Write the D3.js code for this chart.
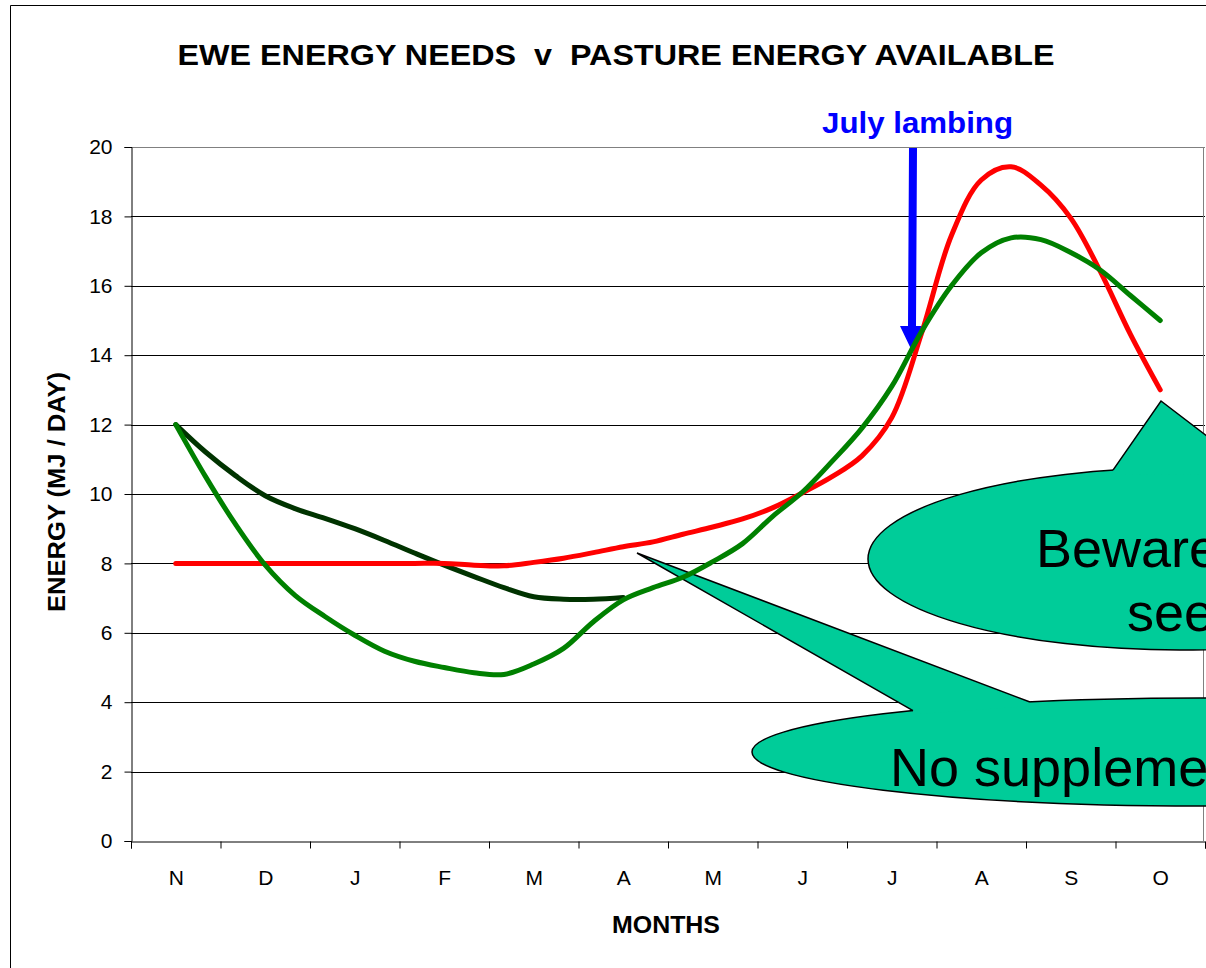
<!DOCTYPE html>
<html><head><meta charset="utf-8">
<script src="https://cdn.jsdelivr.net/npm/d3@7"></script>
<style>
html,body{margin:0;padding:0;background:#fff;}
svg{display:block;font-family:"Liberation Sans",Arial,sans-serif;}
</style></head>
<body><svg id="chart" width="1206" height="968"></svg>
<script>
// ---- data ----
const months = ["N","D","J","F","M","A","M","J","J","A","S","O"];
const yTickValues = [0,2,4,6,8,10,12,14,16,18,20];
// sample positions, in months from November (0 = N ... 11 = O)
const samplePos = [0,0.333,0.667,1,1.333,1.667,2,2.333,2.667,3,3.333,3.667,4,4.333,4.667,5,5.333,5.667,6,6.333,6.667,7,7.333,7.667,8,8.333,8.667,9,9.333,9.667,10,10.333,10.667,11];
// ewe energy needs (July lambing)
const eweNeeds = [8,8,8,8,8,8,8,8,8,8,7.95,7.93,8.03,8.15,8.31,8.48,8.62,8.84,9.05,9.28,9.6,10.03,10.5,11.1,12.2,14.63,17.45,19.05,19.43,18.9,17.95,16.4,14.6,13.0];
// pasture energy available
const pasture = [12.0,10.5,9.13,7.95,7.08,6.47,5.93,5.47,5.18,5.0,4.85,4.8,5.1,5.55,6.32,6.95,7.3,7.6,8.05,8.57,9.35,10.05,10.94,11.9,13.1,14.68,16.0,16.95,17.38,17.33,16.96,16.45,15.72,15.0];
// second pasture curve (Nov - Apr)
const pasture2 = [12.0,11.21,10.53,9.95,9.58,9.3,9.0,8.66,8.3,7.95,7.62,7.3,7.04,6.97,6.97,7.02];

const titleText = "EWE ENERGY NEEDS  v  PASTURE ENERGY AVAILABLE";
const yTitle = "ENERGY (MJ / DAY)";
const xTitle = "MONTHS";
const arrowLabel = "July lambing";
const calloutTop = ["Beware", "see"];
const calloutBottom = ["No suppleme"];

// ---- layout ----
const svg = d3.select("#chart");
const L = 131, R = 1205, T = 147, B = 841;
const x = d3.scaleLinear().domain([-0.5, 11.5]).range([L, R]);
const y = d3.scaleLinear().domain([0, 20]).range([B, T]);
const FILL = "#00CC99";

svg.append("rect").attr("width",1206).attr("height",968).attr("fill","#fff");
// outer chart border
svg.append("path").attr("d","M10.5,968 L10.5,5.5 L1206,5.5").attr("fill","none").attr("stroke","#000").attr("stroke-width",1);

// gridlines
svg.append("g").selectAll("line").data(yTickValues.filter(d=>d>0)).join("line")
  .attr("x1",L).attr("x2",R).attr("y1",d=>Math.round(y(d))+0.5).attr("y2",d=>Math.round(y(d))+0.5)
  .attr("stroke",d=>d===20?"#808080":"#000").attr("stroke-width",1);
// plot area right border
svg.append("line").attr("x1",1203.5).attr("x2",1203.5).attr("y1",T).attr("y2",B).attr("stroke","#808080");

// y axis
const yAxis = svg.append("g").attr("transform",`translate(${L+0.5},0)`)
  .call(d3.axisLeft(y).tickValues(yTickValues).tickSize(7).tickPadding(12).tickFormat(d3.format("d")));
yAxis.selectAll("text").attr("font-size",21).attr("fill","#000").attr("font-family","Liberation Sans, Arial");
yAxis.selectAll("line,path").attr("stroke","#000");

// x axis: ticks at month boundaries
const bounds = d3.range(-0.5, 12, 1);
const xAxis = svg.append("g").attr("transform",`translate(0,${Math.round(B)+0.5})`)
  .call(d3.axisBottom(x).tickValues(bounds).tickSize(7).tickFormat(""));
xAxis.selectAll("line,path").attr("stroke","#000");
const xLab = svg.append("g").attr("transform",`translate(0,${B})`)
  .call(d3.axisBottom(x).tickValues(d3.range(months.length)).tickSize(0).tickPadding(29).tickFormat(i=>months[i]));
xLab.select("path").remove();
xLab.selectAll("text").attr("font-size",21).attr("fill","#000").attr("font-family","Liberation Sans, Arial");

// titles
svg.append("text").attr("x",616).attr("y",65).attr("text-anchor","middle")
  .attr("font-size",30).attr("font-weight","bold").style("white-space","pre")
  .attr("textLength",877).attr("lengthAdjust","spacingAndGlyphs").text(titleText);
svg.append("text").attr("x",666).attr("y",933).attr("text-anchor","middle")
  .attr("font-size",23).attr("font-weight","bold")
  .attr("textLength",108).attr("lengthAdjust","spacingAndGlyphs").text(xTitle);
svg.append("text").attr("transform","translate(65,492) rotate(-90)").attr("text-anchor","middle")
  .attr("font-size",23).attr("font-weight","bold")
  .attr("textLength",240).attr("lengthAdjust","spacingAndGlyphs").text(yTitle);

// ---- callouts ----
function callout(cx, cy, rx, ry, tip, bx1, bx2){
  const ey = bx => cy - ry*Math.sqrt(Math.max(0,1-((bx-cx)/rx)**2));
  const b1 = [bx1, ey(bx1)], b2 = [bx2, ey(bx2)];
  const g = svg.append("g");
  g.append("ellipse").attr("cx",cx).attr("cy",cy).attr("rx",rx).attr("ry",ry)
    .attr("fill",FILL).attr("stroke","#000").attr("stroke-width",1.5);
  g.append("path").attr("d",`M${b1[0]},${b1[1]+4} L${b1[0]},${b1[1]} L${tip[0]},${tip[1]} L${b2[0]},${b2[1]} L${b2[0]},${b2[1]+4} Z`)
    .attr("fill",FILL).attr("stroke","none");
  g.append("path").attr("d",`M${b1[0]},${b1[1]} L${tip[0]},${tip[1]} L${b2[0]},${b2[1]}`)
    .attr("fill","none").attr("stroke","#000").attr("stroke-width",1.5).attr("stroke-linejoin","miter");
  return g;
}
const c1 = callout(1180, 559, 312, 91, [1161, 401], 1113, 1252);
c1.append("text").attr("x",1036).attr("y",567).attr("font-size",54).attr("fill","#000").text(calloutTop[0]);
c1.append("text").attr("x",1127).attr("y",631).attr("font-size",54).attr("fill","#000").text(calloutTop[1]);
const c2 = callout(1200, 752, 448, 54, [637, 553], 913, 1030);
c2.append("text").attr("x",890).attr("y",786).attr("font-size",54).attr("fill","#000").text(calloutBottom[0]);

// ---- July lambing arrow ----
svg.append("path").attr("d","M909,148 L917,148 L916,326 L923,326 L911,349 L900,326 L908,326 Z").attr("fill","#0000FF");
svg.append("text").attr("x",917.5).attr("y",133).attr("text-anchor","middle").attr("font-size",30)
  .attr("font-weight","bold").attr("fill","#0000FF").attr("textLength",191).attr("lengthAdjust","spacingAndGlyphs").text(arrowLabel);

// ---- lines ----
const line = d3.line().x((d,i)=>x(samplePos[i])).y(d=>y(d)).curve(d3.curveCatmullRom.alpha(0.5));
[[pasture2,"#003300"],[eweNeeds,"#FF0000"],[pasture,"#008000"]].forEach(([s,c])=>{
  svg.append("path").attr("d",line(s)).attr("fill","none").attr("stroke",c).attr("stroke-width",5)
    .attr("stroke-linecap","round").attr("stroke-linejoin","round");
});
</script></body></html>
